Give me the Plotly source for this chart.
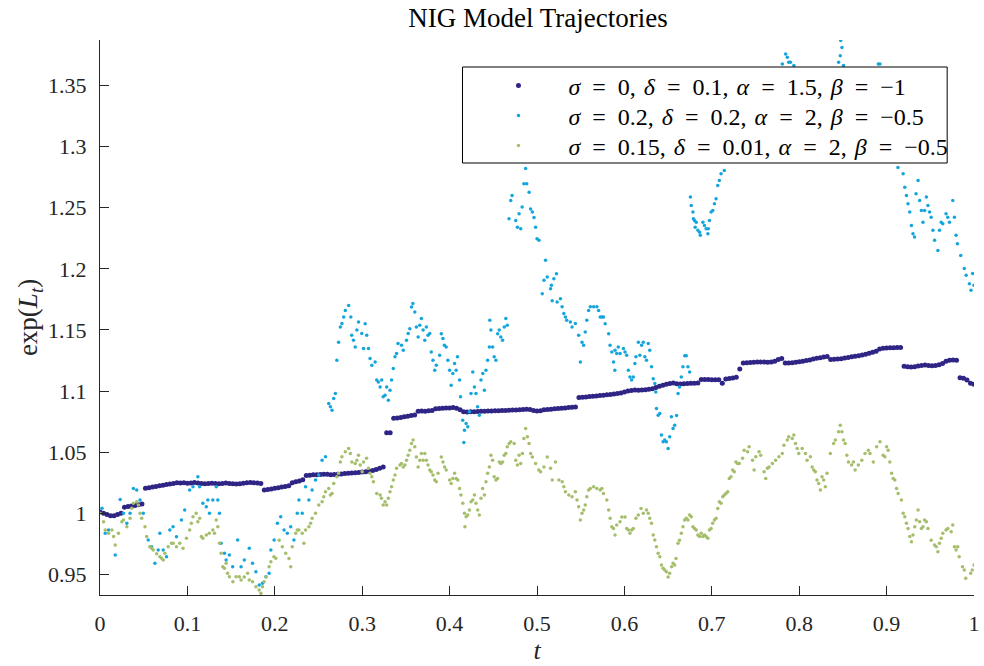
import plotly.graph_objects as go

# ---------------- axis ticks ----------------
x_ticks = [0, 0.1, 0.2, 0.3, 0.4, 0.5, 0.6, 0.7, 0.8, 0.9, 1.0]
x_tick_labels = ["0", "0.1", "0.2", "0.3", "0.4", "0.5", "0.6", "0.7", "0.8", "0.9", "1"]
y_ticks = [0.95, 1.0, 1.05, 1.1, 1.15, 1.2, 1.25, 1.3, 1.35]
y_tick_labels = ["0.95", "1", "1.05", "1.1", "1.15", "1.2", "1.25", "1.3", "1.35"]

E = "\u2002"  # en space around '=' mimics LaTeX math spacing
C = "\u2004"  # three-per-em space after commas
series_names = [
    f"<i>σ</i>{E}={E}0,{C}<i>δ</i>{E}={E}0.1,{C}<i>α</i>{E}={E}1.5,{C}<i>β</i>{E}={E}−1",
    f"<i>σ</i>{E}={E}0.2,{C}<i>δ</i>{E}={E}0.2,{C}<i>α</i>{E}={E}2,{C}<i>β</i>{E}={E}−0.5",
    f"<i>σ</i>{E}={E}0.15,{C}<i>δ</i>{E}={E}0.01,{C}<i>α</i>{E}={E}2,{C}<i>β</i>{E}={E}−0.5",
]

# ---------------- series 1 (sampled every 0.004 in t) ----------------
dark_step = 0.004
dark_v = [
    1.001, 1.000, 0.999, 0.998, 0.998, 0.999, 1.000, 1.005, 1.0055, 1.006,
    1.0065, 1.007, 1.0076, 1.0205, 1.021, 1.0215, 1.022, 1.0225, 1.023, 1.0235,
    1.024, 1.0245, 1.025, 1.0248, 1.025, 1.0246, 1.0248, 1.0252, 1.0248, 1.0245,
    1.0243, 1.0245, 1.0247, 1.0244, 1.0242, 1.0245, 1.0248, 1.0244, 1.0242, 1.024,
    1.0243, 1.0246, 1.025, 1.0253, 1.025, 1.0248, 1.0245, 1.019, 1.0195, 1.020,
    1.0205, 1.021, 1.0215, 1.022, 1.0225, 1.025, 1.0258, 1.0265, 1.0275, 1.031,
    1.0312, 1.0315, 1.0315, 1.0318, 1.032, 1.032, 1.0315, 1.0318, 1.032, 1.0322,
    1.0325, 1.0328, 1.033, 1.0333, 1.0335, 1.0338, 1.034, 1.0345, 1.035, 1.0358,
    1.0368, 1.038, 1.066, 1.066, 1.0778, 1.078, 1.0785, 1.079, 1.0795, 1.080,
    1.0805, 1.0836, 1.0838, 1.0836, 1.084, 1.0842, 1.0855, 1.0858, 1.086, 1.0862,
    1.0862, 1.0865, 1.086, 1.0848, 1.0832, 1.0828, 1.083, 1.0832, 1.0834, 1.0836,
    1.0836, 1.0838, 1.0838, 1.084, 1.084, 1.0842, 1.0842, 1.0844, 1.0845, 1.0846,
    1.0848, 1.085, 1.0852, 1.085, 1.0842, 1.0838, 1.084, 1.0848, 1.085, 1.0852,
    1.0855, 1.0858, 1.086, 1.0862, 1.0865, 1.0868, 1.087, 1.0948, 1.095, 1.0952,
    1.0955, 1.0958, 1.096, 1.0963, 1.0967, 1.097, 1.0973, 1.0976, 1.098, 1.0985,
    1.0992, 1.1, 1.1005, 1.1008, 1.1007, 1.1008, 1.101, 1.1015, 1.102, 1.103,
    1.104, 1.1048, 1.1055, 1.1062, 1.1067, 1.106, 1.1058, 1.106, 1.1062, 1.1065,
    1.1065, 1.1066, 1.1095, 1.1095, 1.1094, 1.1093, 1.1093, 1.1092, 1.1065, 1.1098,
    1.1102, 1.1108, 1.1114, 1.118, 1.123, 1.1232, 1.1234, 1.1236, 1.1238, 1.1238,
    1.1237, 1.1236, 1.1238, 1.1245, 1.1258, 1.1266, 1.123, 1.123, 1.1232, 1.1236,
    1.124, 1.1245, 1.125, 1.1255, 1.1262, 1.1268, 1.1272, 1.1278, 1.1282, 1.1258,
    1.126, 1.1262, 1.1265, 1.127, 1.1275, 1.128, 1.1285, 1.129, 1.1296, 1.1302,
    1.131, 1.1318, 1.1325, 1.1345, 1.135, 1.1352, 1.1354, 1.1355, 1.1356, 1.1356,
    1.1203, 1.12, 1.1198, 1.12, 1.1205, 1.121, 1.1213, 1.121, 1.1208, 1.121,
    1.1215, 1.1225, 1.1245, 1.1252, 1.1255, 1.1252, 1.111, 1.1105, 1.109, 1.1065,
    1.1056,
]

# ---------------- series 2 ----------------
blue_t = [
    0.0023, 0.006, 0.0098, 0.0174, 0.0231, 0.0268, 0.0307, 0.0344, 0.0382, 0.042,
    0.0458, 0.0495, 0.0552, 0.0591, 0.0628, 0.0666, 0.0685, 0.0723, 0.0761, 0.0799,
    0.0836, 0.0875, 0.0932, 0.0969, 0.1026, 0.1064, 0.112, 0.114, 0.1177, 0.1216,
    0.1234, 0.1253, 0.1291, 0.133, 0.1348, 0.1367, 0.1386, 0.1424, 0.1443, 0.148,
    0.1518, 0.1575, 0.1614, 0.1651, 0.1708, 0.1745, 0.1784, 0.1822, 0.1859, 0.1898,
    0.1935, 0.1955, 0.1992, 0.203, 0.2068, 0.2106, 0.2143, 0.2182, 0.2219, 0.2257,
    0.2276, 0.2314, 0.2352, 0.239, 0.2427, 0.2466, 0.2503, 0.2541, 0.258, 0.2617,
    0.2636, 0.2655, 0.2674, 0.2693, 0.271, 0.273, 0.275, 0.2768, 0.2788, 0.2807,
    0.2845, 0.287, 0.288, 0.290, 0.292, 0.2939, 0.2958, 0.2995, 0.3015, 0.3034,
    0.3052, 0.3072, 0.309, 0.311, 0.3148, 0.3166, 0.3185, 0.3205, 0.3223, 0.324,
    0.3261, 0.328, 0.3299, 0.3318, 0.3336, 0.3356, 0.3375, 0.3393, 0.341, 0.345,
    0.347, 0.3507, 0.3526, 0.3545, 0.3564, 0.358, 0.3602, 0.362, 0.364, 0.3659,
    0.3677, 0.3697, 0.3716, 0.3734, 0.3753, 0.3773, 0.379, 0.381, 0.383, 0.3848,
    0.3886, 0.3905, 0.3924, 0.394, 0.3961, 0.398, 0.400, 0.4018, 0.4037, 0.4057,
    0.4075, 0.409, 0.4114, 0.4125, 0.415, 0.4163, 0.417, 0.4189, 0.4208, 0.4227,
    0.4245, 0.4265, 0.4284, 0.4302, 0.432, 0.4341, 0.4359, 0.438, 0.4398, 0.4416,
    0.4435, 0.4455, 0.446, 0.4473, 0.4492, 0.451, 0.453, 0.455, 0.4568, 0.4586,
    0.4606, 0.4625, 0.4643, 0.466,
    0.468, 0.470, 0.4715, 0.4757, 0.4776, 0.4795, 0.4814, 0.483, 0.485, 0.487,
    0.4882, 0.491, 0.4927, 0.4947, 0.4966, 0.4984, 0.500, 0.5023, 0.506, 0.508,
    0.5098, 0.5117, 0.5155, 0.5165, 0.5174, 0.5193, 0.5223, 0.523, 0.5268, 0.5287,
    0.5307, 0.5325, 0.534, 0.5382, 0.5401, 0.5439, 0.5477, 0.5496, 0.5515, 0.5534,
    0.5552, 0.557, 0.559, 0.561, 0.5648, 0.5685, 0.5705, 0.5723, 0.5742, 0.5761,
    0.578, 0.582, 0.5836, 0.5856, 0.5875, 0.589, 0.5893, 0.5912, 0.593, 0.595,
    0.5989, 0.6007, 0.6026, 0.6045, 0.6064, 0.6083, 0.6102, 0.612, 0.6132, 0.616,
    0.6177, 0.6197, 0.6216, 0.6234, 0.6253, 0.6273, 0.629, 0.631, 0.633, 0.6348,
    0.6359, 0.6367, 0.6386, 0.6405, 0.6424, 0.6443, 0.6461, 0.648, 0.650, 0.6518,
    0.6538, 0.6557, 0.6575, 0.6597, 0.6614, 0.663, 0.6651, 0.667, 0.669, 0.6708,
    0.6727, 0.6746,
    0.6755, 0.6765, 0.6784, 0.679, 0.6802, 0.681, 0.6822, 0.6841, 0.686, 0.6868,
    0.6898, 0.6916, 0.6935, 0.6955, 0.696, 0.6973, 0.6992, 0.7011, 0.703, 0.7049,
    0.7068, 0.7086, 0.7106, 0.7125, 0.7143, 0.715, 0.718, 0.722, 0.726, 0.730,
    0.735, 0.740, 0.745, 0.750, 0.755, 0.760, 0.765, 0.770, 0.775, 0.778,
    0.7807, 0.7845, 0.7864, 0.788, 0.790, 0.7939, 0.797, 0.800, 0.804, 0.808,
    0.812, 0.816, 0.820, 0.824, 0.828, 0.832, 0.836, 0.840, 0.8451, 0.847,
    0.8475, 0.8489, 0.8507, 0.854, 0.858, 0.862, 0.866, 0.870, 0.874, 0.878,
    0.882, 0.886, 0.8905, 0.8924, 0.895, 0.899, 0.903, 0.906, 0.909, 0.911,
    0.913, 0.9189, 0.9208, 0.9227, 0.9245, 0.9265, 0.9284, 0.9302, 0.932, 0.9337,
    0.936, 0.9378, 0.9398, 0.9416, 0.9435, 0.9455, 0.9473, 0.9492, 0.951, 0.953,
    0.9549, 0.9587, 0.9605, 0.9625, 0.9643, 0.968, 0.970, 0.9719, 0.9757, 0.9776,
    0.9795, 0.981, 0.9848, 0.9889, 0.991, 0.9947, 0.9966, 0.9984, 1.0,
]
blue_v = [
    1.0041, 0.9837, 0.9864, 0.9659, 1.0114, 1.0, 0.9918, 1.0, 1.0204, 1.019,
    1.0109, 1.0, 0.9782, 0.9727, 0.9592, 0.970, 0.9837, 0.970, 0.9645, 0.9864,
    0.9891, 0.9809, 0.9945, 1.0027, 1.019, 1.0217, 1.030, 1.0217, 1.0082, 1.0054,
    1.0109, 1.0, 1.0109, 1.0217, 1.0109, 1.0, 0.9755, 0.9673, 0.9618, 0.9659,
    0.9564, 0.9782, 0.9564, 0.9618, 0.9714, 0.9592, 0.9523, 0.9414, 0.9428, 0.9482,
    0.951, 0.970, 0.9782, 0.9918, 0.9972, 0.9864, 0.9837, 0.9891, 0.9782, 1.0,
    1.0109, 1.0, 1.0217, 1.0109, 1.019, 1.0272, 1.0313, 1.0435, 1.0462, 1.0899,
    1.0871, 1.0844, 1.094, 1.098, 1.1252, 1.140, 1.1525, 1.1552, 1.1606, 1.166,
    1.170, 1.1606, 1.1457, 1.1416, 1.136, 1.150, 1.1565, 1.1471, 1.1348, 1.155,
    1.1457, 1.1348, 1.1266, 1.1212, 1.1239, 1.109, 1.1075, 1.1034, 1.109, 1.0953,
    1.0967, 1.1034, 1.0926, 1.1007, 1.109, 1.1184, 1.128, 1.1307, 1.139, 1.1375,
    1.1334, 1.1416, 1.1471, 1.151, 1.1688, 1.1716, 1.1647, 1.1525, 1.1443, 1.1538,
    1.1593, 1.150, 1.1416, 1.1525, 1.1457, 1.1471, 1.132, 1.1252, 1.117, 1.1212,
    1.1293, 1.147, 1.143, 1.1375, 1.1361, 1.1252, 1.117, 1.1048, 1.1143, 1.1225,
    1.117, 1.128, 1.109, 1.0953, 1.0762, 1.058, 1.068, 1.0735, 1.0708, 1.083,
    1.098, 1.1157, 1.1034, 1.098, 1.0871, 1.0803, 1.109, 1.1143, 1.1007, 1.117,
    1.1252, 1.136, 1.158, 1.150, 1.136, 1.128, 1.1252, 1.147, 1.150, 1.1443,
    1.1416, 1.1525, 1.1593, 1.1538,
    1.241, 1.256, 1.260, 1.2396, 1.234, 1.2451, 1.2328, 1.2505, 1.2696, 1.282,
    1.2696, 1.2627, 1.249, 1.2464, 1.242, 1.234, 1.2247, 1.2233, 1.1797, 1.1906,
    1.207, 1.1933, 1.1838, 1.1865, 1.174, 1.192, 1.196, 1.1729, 1.1756, 1.169,
    1.1634, 1.1607, 1.158, 1.1565, 1.1525, 1.1552, 1.1457, 1.1239, 1.140, 1.1375,
    1.1484, 1.158, 1.166, 1.169, 1.169, 1.169, 1.166, 1.1606, 1.1606, 1.1606,
    1.155, 1.147, 1.1375, 1.132, 1.1239, 1.117, 1.1334, 1.1307, 1.136, 1.1307,
    1.1348, 1.132, 1.1293, 1.117, 1.1116, 1.109, 1.1116, 1.1225, 1.128, 1.140,
    1.1293, 1.1375, 1.140, 1.128, 1.1252, 1.1389, 1.1334, 1.120, 1.110, 1.1062,
    1.0993, 1.0858, 1.0803, 1.0817, 1.064, 1.0585, 1.0599, 1.0585, 1.053, 1.0626,
    1.079, 1.0694, 1.0721, 1.080, 1.098, 1.1034, 1.1116, 1.120, 1.129, 1.129,
    1.120, 1.1157,
    1.2587, 1.2519, 1.2464, 1.241, 1.2396, 1.234, 1.2382, 1.2315, 1.230, 1.2274,
    1.2382, 1.2355, 1.2328, 1.2288, 1.2328, 1.2396, 1.2464, 1.2478, 1.2533, 1.2574,
    1.2682, 1.2723, 1.2778, 1.2913, 1.2805, 1.2995, 1.305, 1.312, 1.309, 1.318,
    1.325, 1.321, 1.330, 1.338, 1.334, 1.345, 1.352, 1.348, 1.358, 1.362,
    1.3676, 1.3758, 1.373, 1.369, 1.369, 1.3663, 1.358, 1.350, 1.345, 1.352,
    1.342, 1.335, 1.340, 1.330, 1.338, 1.345, 1.352, 1.360, 1.369, 1.3744,
    1.3867, 1.381, 1.3663, 1.358, 1.350, 1.342, 1.348, 1.340, 1.350, 1.356,
    1.352, 1.360, 1.3676, 1.3676, 1.355, 1.342, 1.330, 1.318, 1.300, 1.290,
    1.283, 1.2778, 1.2668, 1.260, 1.2533, 1.2464, 1.2355, 1.2288, 1.226, 1.2614,
    1.2723, 1.256, 1.2478, 1.2382, 1.2478, 1.2587, 1.2519, 1.2464, 1.2423, 1.2315,
    1.2233, 1.215, 1.2315, 1.2382, 1.2369, 1.245, 1.2423, 1.2382, 1.256, 1.2423,
    1.2274, 1.2206, 1.211, 1.2002, 1.1947, 1.1879, 1.1824, 1.1961, 1.1865,
]

# ---------------- series 3 ----------------
green_t = [
    0.0, 0.0041, 0.006, 0.0098, 0.0136, 0.0155, 0.0174, 0.0211, 0.025, 0.0268,
    0.0307, 0.0344, 0.0364, 0.0382, 0.042, 0.0439, 0.0458, 0.0477, 0.0515, 0.0534,
    0.057, 0.0591, 0.0609, 0.0648, 0.0685, 0.0705, 0.0723, 0.0742, 0.078, 0.0818,
    0.0837, 0.0875, 0.0912, 0.095, 0.0989, 0.1026, 0.1045, 0.1064, 0.110, 0.112,
    0.114, 0.116, 0.1177, 0.1216, 0.125, 0.1291, 0.131, 0.133, 0.1348, 0.1367,
    0.1386, 0.1405, 0.1424, 0.1443, 0.146, 0.148, 0.152, 0.1557, 0.1594, 0.1614,
    0.165, 0.1689, 0.1708, 0.1745, 0.1784, 0.182, 0.1841, 0.1859, 0.1878, 0.190,
    0.1935, 0.1955, 0.199, 0.2011, 0.205, 0.2086, 0.2125, 0.2162, 0.2182, 0.220,
    0.2239, 0.2257, 0.2276, 0.2314, 0.2333, 0.2352, 0.239, 0.241, 0.2427, 0.2466,
    0.2503, 0.2541, 0.256, 0.258, 0.2617, 0.2636, 0.2655, 0.2674, 0.271, 0.273,
    0.275, 0.2768, 0.2807, 0.2845, 0.2864, 0.2882, 0.292, 0.2939, 0.2958, 0.2977,
    0.300, 0.3015, 0.305, 0.3072, 0.309, 0.311, 0.3128, 0.3166, 0.3205, 0.322,
    0.324, 0.3261, 0.328, 0.3299, 0.3318, 0.3336, 0.3356, 0.3375, 0.3393, 0.3432,
    0.345, 0.347, 0.3489, 0.3507, 0.3526, 0.3545, 0.3564, 0.3583, 0.3602, 0.362,
    0.364, 0.3659, 0.3677, 0.3697, 0.3716, 0.3734, 0.3753, 0.3773, 0.379, 0.381,
    0.383, 0.3848, 0.3867, 0.3905, 0.3924, 0.3943, 0.3961, 0.400, 0.4018, 0.4037,
    0.4057, 0.4075, 0.4094, 0.4114, 0.413, 0.4151, 0.417, 0.4175, 0.4189, 0.4208,
    0.4227, 0.4245, 0.4265, 0.4284, 0.4302, 0.4322, 0.434, 0.4359, 0.4378, 0.4398,
    0.4416, 0.4435, 0.4455, 0.4473, 0.4492, 0.451, 0.453, 0.4549, 0.4568, 0.4586,
    0.4606, 0.4625, 0.4643, 0.466, 0.4682, 0.470, 0.4739, 0.4757, 0.4776, 0.4795,
    0.4814, 0.4833, 0.485, 0.487, 0.489, 0.4909, 0.4927, 0.4947, 0.4984, 0.502,
    0.5041, 0.508, 0.5117, 0.5155, 0.5174, 0.5211, 0.525, 0.5288, 0.5307, 0.5325,
    0.5364, 0.5401, 0.5439, 0.5458, 0.5477, 0.5496, 0.5515, 0.5534, 0.5552, 0.557,
    0.5591, 0.561, 0.5648, 0.5685, 0.5723, 0.5742, 0.5761, 0.5799, 0.582, 0.5837,
    0.5856, 0.5875, 0.5893, 0.5912, 0.595, 0.597, 0.6007, 0.6026, 0.6045, 0.6064,
    0.6083, 0.6102, 0.6132, 0.6159, 0.619, 0.6216, 0.6253, 0.6273, 0.629, 0.631,
    0.633, 0.6348, 0.6367, 0.6386, 0.6405, 0.6424, 0.6443, 0.6461, 0.648, 0.650,
    0.6518, 0.654, 0.6557, 0.6575, 0.659, 0.6614, 0.663, 0.6651, 0.667, 0.6689,
    0.6708, 0.6727, 0.6746, 0.6765, 0.6784, 0.6802, 0.6822, 0.6841, 0.686, 0.6878,
    0.6898, 0.6916, 0.6935, 0.6955, 0.6973, 0.6992, 0.701, 0.703, 0.7049, 0.7068,
    0.7086, 0.7106, 0.7125, 0.7143, 0.7162, 0.7182, 0.720, 0.7219, 0.7239, 0.7257,
    0.7276, 0.7295, 0.7314, 0.7352, 0.737, 0.7409, 0.7427, 0.7466, 0.7484, 0.7503,
    0.7541, 0.756, 0.7598, 0.7617, 0.7636, 0.7655, 0.7693, 0.773, 0.7768, 0.7807,
    0.7825, 0.7864, 0.788, 0.792, 0.7939, 0.7958, 0.7977, 0.7995, 0.8034, 0.8072,
    0.809, 0.8128, 0.8148, 0.8166, 0.8185, 0.8204, 0.8223, 0.8242, 0.8261, 0.828,
    0.8299, 0.8318, 0.8356, 0.8393, 0.8413, 0.845, 0.847, 0.8489, 0.8507, 0.8526,
    0.8545, 0.8564, 0.860, 0.862, 0.864, 0.8677, 0.8716, 0.8753, 0.8791, 0.881,
    0.8848, 0.8886, 0.8924, 0.8961, 0.898, 0.900, 0.9018, 0.9037, 0.9057, 0.9075,
    0.9094, 0.9114, 0.9132, 0.917, 0.919, 0.9208, 0.9227, 0.9245, 0.9265, 0.9284,
    0.9302, 0.9322, 0.9341, 0.936, 0.9378, 0.9398, 0.9416, 0.9435, 0.9455, 0.9473,
    0.951, 0.9549, 0.9568, 0.9587, 0.9605, 0.9625, 0.9643, 0.968, 0.970, 0.9739,
    0.9757, 0.9776, 0.9795, 0.9814, 0.983, 0.9868, 0.9889, 0.9905, 0.9962, 0.998,
    1.0,
]
green_v = [
    1.0, 0.9932, 0.9864, 0.9837, 0.9864, 0.981, 0.974, 0.9837, 0.9932, 0.9945,
    0.9891, 0.9959, 1.0041, 1.0082, 1.0095, 1.0068, 1.0, 0.9959, 0.9891, 0.981,
    0.9727, 0.9714, 0.970, 0.967, 0.9645, 0.9632, 0.9618, 0.9673, 0.9727, 0.9755,
    0.9755, 0.9727, 0.9755, 0.9714, 0.9796, 0.9864, 0.9918, 0.9972, 1.0, 0.9932,
    0.9959, 0.981, 0.9796, 0.9823, 0.9837, 0.9864, 0.9837, 0.9945, 0.9891, 0.9755,
    0.9673, 0.9564, 0.9551, 0.9592, 0.951, 0.9482, 0.944, 0.9482, 0.9482, 0.9455,
    0.948, 0.951, 0.9455, 0.944, 0.940, 0.9373, 0.9346, 0.940, 0.944, 0.948,
    0.9564, 0.9605, 0.9645, 0.9632, 0.978, 0.9727, 0.9673, 0.963, 0.9564, 0.9727,
    0.9837, 0.9864, 0.9864, 0.9837, 0.9755, 0.9864, 0.9891, 0.9918, 0.9959, 1.0,
    1.0068, 1.0095, 1.0136, 1.0177, 1.0204, 1.015, 1.0163, 1.0245, 1.030, 1.0327,
    1.042, 1.0462, 1.0503, 1.053, 1.049, 1.042, 1.0408, 1.0435, 1.0476, 1.0395,
    1.034, 1.042, 1.045, 1.0368, 1.0327, 1.030, 1.0258, 1.0163, 1.015, 1.0123,
    1.0068, 1.0095, 1.0068, 1.0123, 1.0177, 1.0217, 1.0272, 1.0313, 1.0368, 1.0395,
    1.0408, 1.038, 1.0395, 1.0435, 1.0476, 1.0517, 1.0572, 1.0599, 1.0544, 1.046,
    1.038, 1.0435, 1.049, 1.0435, 1.049, 1.0435, 1.0395, 1.0354, 1.034, 1.0313,
    1.0272, 1.0258, 1.0327, 1.046, 1.042, 1.038, 1.0354, 1.0272, 1.0245, 1.0286,
    1.0327, 1.0286, 1.0272, 1.0204, 1.015, 1.0082, 1.0, 0.989, 0.9972, 0.9986,
    1.0027, 1.0095, 1.0109, 1.015, 1.0082, 1.0027, 0.9986, 1.0123, 1.0204, 1.015,
    1.0258, 1.0327, 1.038, 1.0476, 1.0435, 1.030, 1.0272, 1.0286, 1.042, 1.0408,
    1.042, 1.0476, 1.049, 1.0544, 1.0572, 1.0585, 1.0572, 1.0435, 1.0395, 1.0476,
    1.0408, 1.049, 1.0613, 1.0694, 1.0626, 1.0572, 1.049, 1.046, 1.0408, 1.0354,
    1.034, 1.038, 1.046, 1.0368, 1.0272, 1.042, 1.0272, 1.0258, 1.0217, 1.0177,
    1.015, 1.0136, 1.0177, 1.011, 1.0054, 0.9945, 1.0, 1.0027, 1.0068, 1.0136,
    1.019, 1.0204, 1.0217, 1.0204, 1.019, 1.0204, 1.0163, 1.0109, 1.0027, 0.9959,
    0.9891, 0.9877, 0.9823, 0.9904, 0.9932, 0.997, 0.997, 0.9877, 0.9864, 0.9837,
    0.9864, 0.9877, 0.9959, 0.9986, 1.004, 1.0, 1.0027, 1.0, 0.9959, 0.9918,
    0.9823, 0.9782, 0.9727, 0.9673, 0.9645, 0.9578, 0.955, 0.9537, 0.9523, 0.948,
    0.951, 0.9564, 0.9592, 0.9578, 0.963, 0.9755, 0.978, 0.9837, 0.989, 0.9945,
    0.9959, 0.9945, 0.9986, 0.9972, 0.989, 0.9877, 0.9864, 0.9823, 0.981, 0.9837,
    0.981, 0.9823, 0.981, 0.9796, 0.9864, 0.9877, 0.9918, 0.9945, 0.9959, 1.004,
    1.0095, 1.0082, 1.0136, 1.015, 1.0163, 1.0177, 1.0286, 1.030, 1.0354, 1.034,
    1.042, 1.0408, 1.0408, 1.045, 1.0517, 1.0503, 1.0544, 1.0435, 1.0354, 1.0462,
    1.0503, 1.0476, 1.034, 1.0286, 1.0368, 1.038, 1.0408, 1.0435, 1.0462, 1.049,
    1.0558, 1.0599, 1.0626, 1.0613, 1.064, 1.0572, 1.0531, 1.049, 1.0531, 1.049,
    1.0435, 1.0462, 1.038, 1.0354, 1.034, 1.0272, 1.0245, 1.019, 1.030, 1.0272,
    1.0217, 1.0327, 1.049, 1.0572, 1.0599, 1.0667, 1.0721, 1.0667, 1.0599, 1.0572,
    1.0476, 1.042, 1.0395, 1.042, 1.0354, 1.0395, 1.0435, 1.049, 1.0517, 1.049,
    1.042, 1.0544, 1.0585, 1.0476, 1.0462, 1.0544, 1.0517, 1.042, 1.0327, 1.0286,
    1.0272, 1.0204, 1.0163, 1.011, 1.0, 0.9972, 0.9918, 0.9877, 0.981, 0.9768,
    0.9823, 0.989, 0.9945, 1.0027, 0.9932, 0.9877, 0.9891, 0.9945, 0.9932, 0.9877,
    0.978, 0.9741, 0.9727, 0.9686, 0.9755, 0.9796, 0.9837, 0.9864, 0.9877, 0.985,
    0.9905, 0.9727, 0.970, 0.9727, 0.9645, 0.9564, 0.9537, 0.9469, 0.951, 0.9537,
    0.9578,
]

colors = ["#2F2585", "#14A5DC", "#A5BE6B"]

dark_t = [round(i * dark_step, 4) for i in range(len(dark_v))]
n_b = min(len(blue_t), len(blue_v))
n_g = min(len(green_t), len(green_v))

FONT = "Liberation Serif"
AX = "#262626"

# plot area in pixels: x 100..980, y 40..595
PL, PR, PT, PB = 100, 980, 40, 595
def px_x(p):
    return (p - PL) / (PR - PL)
def px_y(p):
    return (PB - p) / (PB - PT)

fig = go.Figure()
fig.add_trace(go.Scatter(x=dark_t, y=dark_v, mode="markers", name=series_names[0], legend="legend",
                         marker=dict(color=colors[0], size=5, line=dict(width=0))))
fig.add_trace(go.Scatter(x=blue_t[:n_b], y=blue_v[:n_b], mode="markers", name=series_names[1], legend="legend2",
                         marker=dict(color=colors[1], size=3.5, line=dict(width=0))))
fig.add_trace(go.Scatter(x=green_t[:n_g], y=green_v[:n_g], mode="markers", name=series_names[2], legend="legend3",
                         marker=dict(color=colors[2], size=3.5, line=dict(width=0))))

# legend frame (white box with black border, drawn above the data)
fig.add_shape(type="rect", xref="paper", yref="paper",
              x0=px_x(465), x1=px_x(953), y0=px_y(163), y1=px_y(67),
              line=dict(color="#000000", width=1), fillcolor="white", layer="above")

def legend_row(py):
    return dict(x=px_x(471), xanchor="left", y=px_y(py), yanchor="middle",
                bgcolor="rgba(0,0,0,0)", borderwidth=0,
                font=dict(family=FONT, size=24, color="#000000"),
                itemwidth=90, tracegroupgap=0)

fig.update_layout(
    width=984, height=666,
    margin=dict(l=PL, r=984 - PR, t=PT, b=666 - PB),
    paper_bgcolor="white", plot_bgcolor="white",
    font=dict(family=FONT, size=22, color=AX),
    title=dict(text="NIG Model Trajectories", x=0.5468, xanchor="center", y=0.974, yanchor="middle",
               font=dict(family=FONT, size=27, color="#000000")),
    showlegend=True,
    legend=legend_row(86),
    legend2=legend_row(116),
    legend3=legend_row(146),
    xaxis=dict(range=[0, 1], tickvals=x_ticks, ticktext=x_tick_labels,
               showgrid=False, zeroline=False, showline=True, linecolor=AX, linewidth=1,
               ticks="inside", ticklen=9, tickcolor=AX, tickwidth=1,
               tickfont=dict(family=FONT, size=22, color=AX), ticklabelstandoff=9,
               ticklabeloverflow="allow",
               title=dict(text="<i>t</i>", font=dict(family=FONT, size=26, color=AX), standoff=2)),
    yaxis=dict(range=[0.9332, 1.3872], tickvals=y_ticks, ticktext=y_tick_labels,
               showgrid=False, zeroline=False, showline=True, linecolor=AX, linewidth=1,
               ticks="inside", ticklen=9, tickcolor=AX, tickwidth=1,
               tickfont=dict(family=FONT, size=22, color=AX), ticklabelstandoff=8,
               ticklabeloverflow="allow",
               title=dict(text="exp(<i>L<sub>t</sub></i>)", font=dict(family=FONT, size=27, color=AX), standoff=2)),
)

fig.write_html("out.html")
